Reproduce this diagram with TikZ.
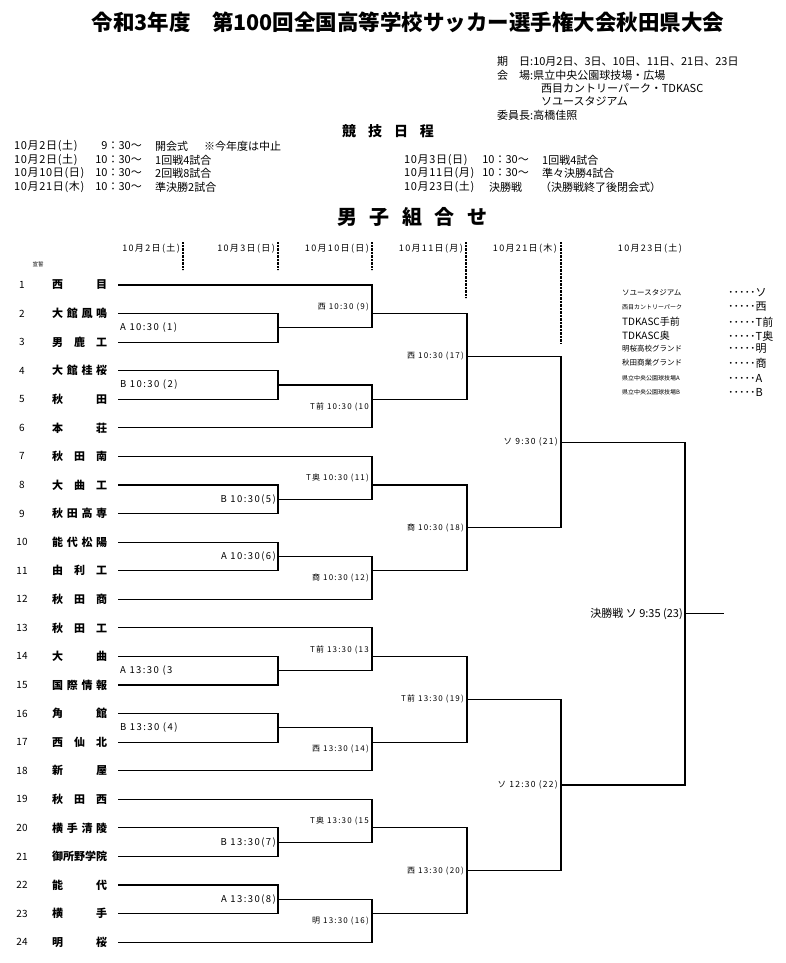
\documentclass[tikz,border=0pt]{standalone}
\usepackage{fontspec}
\setmainfont{Noto Sans CJK JP}
\newfontfamily\lsfont[LetterSpace=15]{Noto Sans CJK JP}
\newfontfamily\sdfont[LetterSpace=6]{Noto Sans CJK JP}
\usetikzlibrary{calc}
\newcommand{\fs}[1]{\fontsize{#1}{#1}\selectfont}
\tikzset{
  bline/.style={line width=1.1pt},
  sepline/.style={line width=1.3pt, dash pattern=on 0.7pt off 0.7pt},
  info/.style={anchor=west, inner sep=0pt, font=\fs{11}},
  sdate/.style={anchor=west, inner sep=0pt, font=\sdfont\fs{11}},
  colhead/.style={anchor=east, inner sep=0pt, font=\lsfont\fs{9}},
  num/.style={inner sep=0pt, font=\fs{10}},
  team/.style={anchor=west, inner sep=0pt, font=\bfseries\fs{11}},
  llab/.style={anchor=west, inner sep=0pt, font=\lsfont\fs{9.5}},
  rlab/.style={anchor=east, inner sep=0pt, font=\lsfont\fs{9.5}},
  slab/.style={anchor=east, inner sep=0pt, font=\lsfont\fs{8}},
  leg/.style={anchor=west, inner sep=0pt},
}

\begin{document}
\begin{tikzpicture}[x=1pt, y=-1pt]
  \useasboundingbox (0,0) rectangle (786,963);
  % heading
  \node[font=\bfseries\fs{21.5}] (title) at (408,22) {令和3年度　第100回全国高等学校サッカー選手権大会秋田県大会};
  \node[info] (kijitsu) at (497,61) {期　日:10月2日、3日、10日、11日、21日、23日};
  \node[info] (kaijo) at (497,75) {会　場:県立中央公園球技場・広場};
  \node[info] (kaijo2) at (541,88) {西目カントリーパーク・TDKASC};
  \node[info] (kaijo3) at (541,101) {ソユースタジアム};
  \node[info] (iincho) at (497,115) {委員長:高橋佳照};
  \node[font=\bfseries\fs{14}] (nittei) at (388,131) {\makebox[92pt][l]{競\hfill 技\hfill 日\hfill 程}};
  % schedule
  \node[sdate] (d1) at (14,146) {10月2日(土)};
  \node[info, anchor=east] (h1) at (142,146) {9：30～};
  \node[info] (g1) at (155,146) {開会式};
  \node[info] (c1) at (204,146) {※今年度は中止};
  \node[sdate] (d2) at (14,160) {10月2日(土)};
  \node[info, anchor=east] (h2) at (142,160) {10：30～};
  \node[info] (g2) at (155,160) {1回戦4試合};
  \node[sdate] (d3) at (14,173) {10月10日(日)};
  \node[info, anchor=east] (h3) at (142,173) {10：30～};
  \node[info] (g3) at (155,173) {2回戦8試合};
  \node[sdate] (d4) at (14,187) {10月21日(木)};
  \node[info, anchor=east] (h4) at (142,187) {10：30～};
  \node[info] (g4) at (155,187) {準決勝2試合};
  \node[sdate] (d5) at (404,160) {10月3日(日)};
  \node[info, anchor=east] (h5) at (529,160) {10：30～};
  \node[info] (g5) at (542,160) {1回戦4試合};
  \node[sdate] (d6) at (404,173) {10月11日(月)};
  \node[info, anchor=east] (h6) at (529,173) {10：30～};
  \node[info] (g6) at (542,173) {準々決勝4試合};
  \node[sdate] (d7) at (404,187) {10月23日(土)};
  \node[info] (g7) at (489,187) {決勝戦};
  \node[info] (c7) at (540,187) {（決勝戦終了後閉会式）};
  \node[font=\bfseries\fs{20}] (kumiawase) at (412,217) {\makebox[150pt][l]{男\hfill 子\hfill 組\hfill 合\hfill せ}};
  % day columns
  \node[colhead] (day1) at (180,249) {10月2日(土)};
  \node[colhead] (day2) at (275,249) {10月3日(日)};
  \node[colhead] (day3) at (369,249) {10月10日(日)};
  \node[colhead] (day4) at (463,249) {10月11日(月)};
  \node[colhead] (day5) at (557,249) {10月21日(木)};
  \node[colhead] (day6) at (682,249) {10月23日(土)};
  \draw[sepline] (183,242) -- (183,270);
  \draw[sepline] (278,242) -- (278,270);
  \draw[sepline] (372,242) -- (372,270);
  \draw[sepline] (466,242) -- (466,298);
  \draw[sepline] (561,242) -- (561,343);
  \node[font=\fs{5.5}] (sensei) at (38,264) {宣誓};
  % teams
  \foreach \n/\nm in {1/{西\hfill 目}, 2/{大\hfill 館\hfill 鳳\hfill 鳴}, 3/{男\hfill 鹿\hfill 工},
      4/{大\hfill 館\hfill 桂\hfill 桜}, 5/{秋\hfill 田}, 6/{本\hfill 荘}, 7/{秋\hfill 田\hfill 南},
      8/{大\hfill 曲\hfill 工}, 9/{秋\hfill 田\hfill 高\hfill 専}, 10/{能\hfill 代\hfill 松\hfill 陽},
      11/{由\hfill 利\hfill 工}, 12/{秋\hfill 田\hfill 商}, 13/{秋\hfill 田\hfill 工}, 14/{大\hfill 曲},
      15/{国\hfill 際\hfill 情\hfill 報}, 16/{角\hfill 館}, 17/{西\hfill 仙\hfill 北}, 18/{新\hfill 屋},
      19/{秋\hfill 田\hfill 西}, 20/{横\hfill 手\hfill 清\hfill 陵}, 21/{御所野学院}, 22/{能\hfill 代},
      23/{横\hfill 手}, 24/{明\hfill 桜}} {
    \pgfmathsetmacro{\yy}{285+(\n-1)*28.57}
    \node[num] (n\n) at (22,\yy) {\n};
    \node[team] (t\n) at (52,\yy) {\makebox[55pt][l]{\nm}};
    \coordinate (e\n) at (118,\yy);
  }
  % match points
  \foreach \m/\x/\y in {m1/278/327.9, m2/278/385, m3/278/670.7, m4/278/727.9,
      m5/278/499.3, m6/278/556.4, m7/278/842.1, m8/278/899.3,
      m9/372/313.6, m10/372/399.3, m11/372/485, m12/372/570.7,
      m13/372/656.4, m14/372/742.1, m15/372/827.9, m16/372/913.6,
      m17/467/356.4, m18/467/527.9, m19/467/699.3, m20/467/870.7,
      m21/561/442.1, m22/561/785, m23/685/613.6, win/724/613.6}
    \coordinate (\m) at (\x,\y);
  % bracket
  \foreach \a/\b in {e1/m9, e2/m1, e3/m1, e4/m2, e5/m2, e6/m10, e7/m11, e8/m5, e9/m5,
      e10/m6, e11/m6, e12/m12, e13/m13, e14/m3, e15/m3, e16/m4, e17/m4, e18/m14,
      e19/m15, e20/m7, e21/m7, e22/m8, e23/m8, e24/m16,
      m1/m9, m2/m10, m5/m11, m6/m12, m3/m13, m4/m14, m7/m15, m8/m16,
      m9/m17, m10/m17, m11/m18, m12/m18, m13/m19, m14/m19, m15/m20, m16/m20,
      m17/m21, m18/m21, m19/m22, m20/m22, m21/m23, m22/m23}
    \draw[bline] (\a) -| (\b);
  \draw[bline] (m23) -- (win);
  % match labels
  \node[llab] (l1) at (120,327.9) {A 10:30 (1)};
  \node[llab] (l2) at (120,385) {B 10:30 (2)};
  \node[llab] (l3) at (120,670.7) {A 13:30 (3};
  \node[llab] (l4) at (120,727.9) {B 13:30 (4)};
  \node[rlab] (l5) at ([xshift=-2pt]m5) {B 10:30(5)};
  \node[rlab] (l6) at ([xshift=-2pt]m6) {A 10:30(6)};
  \node[rlab] (l7) at ([xshift=-2pt]m7) {B 13:30(7)};
  \node[rlab] (l8) at ([xshift=-2pt]m8) {A 13:30(8)};
  \node[slab] (l9) at ([xshift=-3pt,yshift=7pt]m9) {西 10:30 (9)};
  \node[slab] (l10) at ([xshift=-3pt,yshift=-8pt]m10) {T前 10:30 (10};
  \node[slab] (l11) at ([xshift=-3pt,yshift=7pt]m11) {T奥 10:30 (11)};
  \node[slab] (l12) at ([xshift=-3pt,yshift=-7pt]m12) {商 10:30 (12)};
  \node[slab] (l13) at ([xshift=-3pt,yshift=7pt]m13) {T前 13:30 (13};
  \node[slab] (l14) at ([xshift=-3pt,yshift=-7pt]m14) {西 13:30 (14)};
  \node[slab] (l15) at ([xshift=-3pt,yshift=7pt]m15) {T奥 13:30 (15};
  \node[slab] (l16) at ([xshift=-3pt,yshift=-7pt]m16) {明 13:30 (16)};
  \node[slab] (l17) at ([xshift=-3pt]m17) {西 10:30 (17)};
  \node[slab] (l18) at ([xshift=-3pt]m18) {商 10:30 (18)};
  \node[slab] (l19) at ([xshift=-3pt]m19) {T前 13:30 (19)};
  \node[slab] (l20) at ([xshift=-3pt]m20) {西 13:30 (20)};
  \node[slab, font=\lsfont\fs{8.5}] (l21) at ([xshift=-3pt]m21) {ソ 9:30 (21)};
  \node[slab, font=\lsfont\fs{8.5}] (l22) at ([xshift=-3pt]m22) {ソ 12:30 (22)};
  \node[anchor=east, inner sep=0pt, font=\fs{11}] (l23) at ([xshift=-2pt]m23) {決勝戦 ソ 9:35 (23)};
  % venues
  \node[leg, font=\fs{7.5}] (v1) at (622,293) {ソユースタジアム};
  \node[leg, font=\fs{6}] (v2) at (622,307) {西目カントリーパーク};
  \node[leg, font=\fs{10}] (v3) at (622,322) {TDKASC手前};
  \node[leg, font=\fs{10}] (v4) at (622,336) {TDKASC奥};
  \node[leg, font=\fs{7.5}] (v5) at (622,349) {明桜高校グランド};
  \node[leg, font=\fs{7.5}] (v6) at (622,363) {秋田商業グランド};
  \node[leg, font=\fs{6}] (v7) at (622,378) {県立中央公園球技場A};
  \node[leg, font=\fs{6}] (v8) at (622,392) {県立中央公園球技場B};
  \foreach \k/\ab/\y in {1/ソ/293, 2/西/307, 3/T前/322, 4/T奥/336, 5/明/349, 6/商/363, 7/A/378, 8/B/392}
    \node[leg, font=\fs{11}] (a\k) at (728,\y) {･････\ab};
\end{tikzpicture}
\end{document}
